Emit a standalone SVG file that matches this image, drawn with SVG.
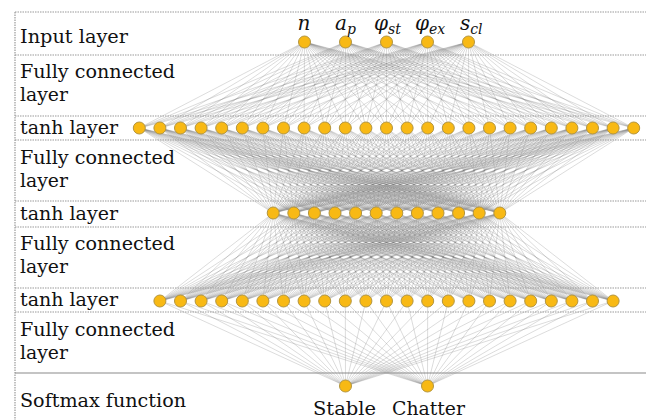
<svg xmlns="http://www.w3.org/2000/svg" xmlns:xlink="http://www.w3.org/1999/xlink" width="646" height="420" viewBox="0 0 646 420">
  <style>
    text { font-family: "DejaVu Serif", "Liberation Serif", serif; fill: #111; }
    .lbl { font-size: 19px; }
    .var { font-size: 20px; font-style: italic; }
    .sub { font-size: 14px; }
    .sep { stroke: #9a9a9a; stroke-width: 1.2; stroke-dasharray: 1.5 1; fill: none; }
    .solid { stroke: #8a8a8a; stroke-width: 1.2; fill: none; }
    .node { fill: #F8B914; stroke: #B3953F; stroke-width: 1; }
    .fan { stroke: #7a7a7a; stroke-opacity: 0.38; stroke-width: 0.7; fill: none; }
  </style>
  <defs>
    <!-- fans in unit-height local space: source at (0,0), targets at (x,1);
         each use maps them with matrix(1 0 -sx dy sx y0) -->
    <path id="fanA" class="fan" vector-effect="non-scaling-stroke" d="M0 0L139.3 1M0 0L159.9 1M0 0L180.5 1M0 0L201.1 1M0 0L221.7 1M0 0L242.3 1M0 0L262.9 1M0 0L283.5 1M0 0L304.1 1M0 0L324.7 1M0 0L345.3 1M0 0L365.9 1M0 0L386.5 1M0 0L407.1 1M0 0L427.7 1M0 0L448.3 1M0 0L468.9 1M0 0L489.5 1M0 0L510.1 1M0 0L530.7 1M0 0L551.3 1M0 0L571.9 1M0 0L592.5 1M0 0L613.1 1M0 0L633.7 1"/>
    <path id="fanB" class="fan" vector-effect="non-scaling-stroke" d="M0 0L273.2 1M0 0L293.8 1M0 0L314.4 1M0 0L335 1M0 0L355.6 1M0 0L376.2 1M0 0L396.8 1M0 0L417.4 1M0 0L438 1M0 0L458.6 1M0 0L479.2 1M0 0L499.8 1"/>
    <path id="fanC" class="fan" vector-effect="non-scaling-stroke" d="M0 0L159.9 1M0 0L180.5 1M0 0L201.1 1M0 0L221.7 1M0 0L242.3 1M0 0L262.9 1M0 0L283.5 1M0 0L304.1 1M0 0L324.7 1M0 0L345.3 1M0 0L365.9 1M0 0L386.5 1M0 0L407.1 1M0 0L427.7 1M0 0L448.3 1M0 0L468.9 1M0 0L489.5 1M0 0L510.1 1M0 0L530.7 1M0 0L551.3 1M0 0L571.9 1M0 0L592.5 1M0 0L613.1 1"/>
    <path id="fanD" class="fan" vector-effect="non-scaling-stroke" d="M0 0L345.5 1M0 0L427.5 1"/>
    <circle id="n" class="node" r="6"/>
  </defs>

  <rect width="646" height="420" fill="#ffffff"/>

  <!-- connectors between consecutive layers -->
  <g id="connectors">
    <g id="in-to-tanh1">
      <use xlink:href="#fanA" transform="matrix(1 0 -304.5 86 304.5 42)"/>
      <use xlink:href="#fanA" transform="matrix(1 0 -345.5 86 345.5 42)"/>
      <use xlink:href="#fanA" transform="matrix(1 0 -386.5 86 386.5 42)"/>
      <use xlink:href="#fanA" transform="matrix(1 0 -427.5 86 427.5 42)"/>
      <use xlink:href="#fanA" transform="matrix(1 0 -468.5 86 468.5 42)"/>
    </g>
    <g id="tanh1-to-tanh2">
      <use xlink:href="#fanB" transform="matrix(1 0 -139.3 85 139.3 128)"/>
      <use xlink:href="#fanB" transform="matrix(1 0 -159.9 85 159.9 128)"/>
      <use xlink:href="#fanB" transform="matrix(1 0 -180.5 85 180.5 128)"/>
      <use xlink:href="#fanB" transform="matrix(1 0 -201.1 85 201.1 128)"/>
      <use xlink:href="#fanB" transform="matrix(1 0 -221.7 85 221.7 128)"/>
      <use xlink:href="#fanB" transform="matrix(1 0 -242.3 85 242.3 128)"/>
      <use xlink:href="#fanB" transform="matrix(1 0 -262.9 85 262.9 128)"/>
      <use xlink:href="#fanB" transform="matrix(1 0 -283.5 85 283.5 128)"/>
      <use xlink:href="#fanB" transform="matrix(1 0 -304.1 85 304.1 128)"/>
      <use xlink:href="#fanB" transform="matrix(1 0 -324.7 85 324.7 128)"/>
      <use xlink:href="#fanB" transform="matrix(1 0 -345.3 85 345.3 128)"/>
      <use xlink:href="#fanB" transform="matrix(1 0 -365.9 85 365.9 128)"/>
      <use xlink:href="#fanB" transform="matrix(1 0 -386.5 85 386.5 128)"/>
      <use xlink:href="#fanB" transform="matrix(1 0 -407.1 85 407.1 128)"/>
      <use xlink:href="#fanB" transform="matrix(1 0 -427.7 85 427.7 128)"/>
      <use xlink:href="#fanB" transform="matrix(1 0 -448.3 85 448.3 128)"/>
      <use xlink:href="#fanB" transform="matrix(1 0 -468.9 85 468.9 128)"/>
      <use xlink:href="#fanB" transform="matrix(1 0 -489.5 85 489.5 128)"/>
      <use xlink:href="#fanB" transform="matrix(1 0 -510.1 85 510.1 128)"/>
      <use xlink:href="#fanB" transform="matrix(1 0 -530.7 85 530.7 128)"/>
      <use xlink:href="#fanB" transform="matrix(1 0 -551.3 85 551.3 128)"/>
      <use xlink:href="#fanB" transform="matrix(1 0 -571.9 85 571.9 128)"/>
      <use xlink:href="#fanB" transform="matrix(1 0 -592.5 85 592.5 128)"/>
      <use xlink:href="#fanB" transform="matrix(1 0 -613.1 85 613.1 128)"/>
      <use xlink:href="#fanB" transform="matrix(1 0 -633.7 85 633.7 128)"/>
    </g>
    <g id="tanh2-to-tanh3">
      <use xlink:href="#fanC" transform="matrix(1 0 -273.2 88 273.2 213)"/>
      <use xlink:href="#fanC" transform="matrix(1 0 -293.8 88 293.8 213)"/>
      <use xlink:href="#fanC" transform="matrix(1 0 -314.4 88 314.4 213)"/>
      <use xlink:href="#fanC" transform="matrix(1 0 -335 88 335 213)"/>
      <use xlink:href="#fanC" transform="matrix(1 0 -355.6 88 355.6 213)"/>
      <use xlink:href="#fanC" transform="matrix(1 0 -376.2 88 376.2 213)"/>
      <use xlink:href="#fanC" transform="matrix(1 0 -396.8 88 396.8 213)"/>
      <use xlink:href="#fanC" transform="matrix(1 0 -417.4 88 417.4 213)"/>
      <use xlink:href="#fanC" transform="matrix(1 0 -438 88 438 213)"/>
      <use xlink:href="#fanC" transform="matrix(1 0 -458.6 88 458.6 213)"/>
      <use xlink:href="#fanC" transform="matrix(1 0 -479.2 88 479.2 213)"/>
      <use xlink:href="#fanC" transform="matrix(1 0 -499.8 88 499.8 213)"/>
    </g>
    <g id="tanh3-to-out">
      <use xlink:href="#fanD" transform="matrix(1 0 -159.9 85 159.9 301)"/>
      <use xlink:href="#fanD" transform="matrix(1 0 -180.5 85 180.5 301)"/>
      <use xlink:href="#fanD" transform="matrix(1 0 -201.1 85 201.1 301)"/>
      <use xlink:href="#fanD" transform="matrix(1 0 -221.7 85 221.7 301)"/>
      <use xlink:href="#fanD" transform="matrix(1 0 -242.3 85 242.3 301)"/>
      <use xlink:href="#fanD" transform="matrix(1 0 -262.9 85 262.9 301)"/>
      <use xlink:href="#fanD" transform="matrix(1 0 -283.5 85 283.5 301)"/>
      <use xlink:href="#fanD" transform="matrix(1 0 -304.1 85 304.1 301)"/>
      <use xlink:href="#fanD" transform="matrix(1 0 -324.7 85 324.7 301)"/>
      <use xlink:href="#fanD" transform="matrix(1 0 -345.3 85 345.3 301)"/>
      <use xlink:href="#fanD" transform="matrix(1 0 -365.9 85 365.9 301)"/>
      <use xlink:href="#fanD" transform="matrix(1 0 -386.5 85 386.5 301)"/>
      <use xlink:href="#fanD" transform="matrix(1 0 -407.1 85 407.1 301)"/>
      <use xlink:href="#fanD" transform="matrix(1 0 -427.7 85 427.7 301)"/>
      <use xlink:href="#fanD" transform="matrix(1 0 -448.3 85 448.3 301)"/>
      <use xlink:href="#fanD" transform="matrix(1 0 -468.9 85 468.9 301)"/>
      <use xlink:href="#fanD" transform="matrix(1 0 -489.5 85 489.5 301)"/>
      <use xlink:href="#fanD" transform="matrix(1 0 -510.1 85 510.1 301)"/>
      <use xlink:href="#fanD" transform="matrix(1 0 -530.7 85 530.7 301)"/>
      <use xlink:href="#fanD" transform="matrix(1 0 -551.3 85 551.3 301)"/>
      <use xlink:href="#fanD" transform="matrix(1 0 -571.9 85 571.9 301)"/>
      <use xlink:href="#fanD" transform="matrix(1 0 -592.5 85 592.5 301)"/>
      <use xlink:href="#fanD" transform="matrix(1 0 -613.1 85 613.1 301)"/>
    </g>
  </g>

  <!-- band separators -->
  <g id="bands">
    <path class="sep" d="M15 12H646M15 55H646M15 116H646M15 140H646M15 201H646M15 227H646M15 288H646M15 312H646"/>
    <path class="sep" d="M15 12V420"/>
    <path class="solid" d="M15 373H646"/>
  </g>

  <!-- band titles -->
  <g id="band-titles">
    <text class="lbl" x="20" y="43" textLength="108" lengthAdjust="spacingAndGlyphs">Input layer</text>
    <text class="lbl" x="20" y="78" textLength="155" lengthAdjust="spacingAndGlyphs">Fully connected</text>
    <text class="lbl" x="20" y="101" textLength="48" lengthAdjust="spacingAndGlyphs">layer</text>
    <text class="lbl" x="20" y="134" textLength="98" lengthAdjust="spacingAndGlyphs">tanh layer</text>
    <text class="lbl" x="20" y="164" textLength="155" lengthAdjust="spacingAndGlyphs">Fully connected</text>
    <text class="lbl" x="20" y="187" textLength="48" lengthAdjust="spacingAndGlyphs">layer</text>
    <text class="lbl" x="20" y="220" textLength="98" lengthAdjust="spacingAndGlyphs">tanh layer</text>
    <text class="lbl" x="20" y="250" textLength="155" lengthAdjust="spacingAndGlyphs">Fully connected</text>
    <text class="lbl" x="20" y="273" textLength="48" lengthAdjust="spacingAndGlyphs">layer</text>
    <text class="lbl" x="20" y="306" textLength="98" lengthAdjust="spacingAndGlyphs">tanh layer</text>
    <text class="lbl" x="20" y="336" textLength="155" lengthAdjust="spacingAndGlyphs">Fully connected</text>
    <text class="lbl" x="20" y="359" textLength="48" lengthAdjust="spacingAndGlyphs">layer</text>
    <text class="lbl" x="20" y="407" textLength="166" lengthAdjust="spacingAndGlyphs">Softmax function</text>
  </g>

  <!-- input layer -->
  <g id="input-layer">
    <use xlink:href="#n" x="304.5" y="42"/>
    <use xlink:href="#n" x="345.5" y="42"/>
    <use xlink:href="#n" x="386.5" y="42"/>
    <use xlink:href="#n" x="427.5" y="42"/>
    <use xlink:href="#n" x="468.5" y="42"/>
    <text class="var" x="304" y="30" text-anchor="middle">n</text>
    <text class="var" x="335" y="30">a<tspan class="sub" dy="4">p</tspan></text>
    <text class="var" x="374" y="30">φ<tspan class="sub" dy="4">st</tspan></text>
    <text class="var" x="415" y="30">φ<tspan class="sub" dy="4">ex</tspan></text>
    <text class="var" x="460" y="30">s<tspan class="sub" dy="4">cl</tspan></text>
  </g>

  <!-- first tanh layer: 25 units -->
  <g id="tanh-layer-1">
    <use xlink:href="#n" x="139.3" y="128"/><use xlink:href="#n" x="159.9" y="128"/><use xlink:href="#n" x="180.5" y="128"/>
    <use xlink:href="#n" x="201.1" y="128"/><use xlink:href="#n" x="221.7" y="128"/><use xlink:href="#n" x="242.3" y="128"/>
    <use xlink:href="#n" x="262.9" y="128"/><use xlink:href="#n" x="283.5" y="128"/><use xlink:href="#n" x="304.1" y="128"/>
    <use xlink:href="#n" x="324.7" y="128"/><use xlink:href="#n" x="345.3" y="128"/><use xlink:href="#n" x="365.9" y="128"/>
    <use xlink:href="#n" x="386.5" y="128"/><use xlink:href="#n" x="407.1" y="128"/><use xlink:href="#n" x="427.7" y="128"/>
    <use xlink:href="#n" x="448.3" y="128"/><use xlink:href="#n" x="468.9" y="128"/><use xlink:href="#n" x="489.5" y="128"/>
    <use xlink:href="#n" x="510.1" y="128"/><use xlink:href="#n" x="530.7" y="128"/><use xlink:href="#n" x="551.3" y="128"/>
    <use xlink:href="#n" x="571.9" y="128"/><use xlink:href="#n" x="592.5" y="128"/><use xlink:href="#n" x="613.1" y="128"/>
    <use xlink:href="#n" x="633.7" y="128"/>
  </g>

  <!-- second tanh layer: 12 units -->
  <g id="tanh-layer-2">
    <use xlink:href="#n" x="273.2" y="213"/><use xlink:href="#n" x="293.8" y="213"/><use xlink:href="#n" x="314.4" y="213"/>
    <use xlink:href="#n" x="335" y="213"/><use xlink:href="#n" x="355.6" y="213"/><use xlink:href="#n" x="376.2" y="213"/>
    <use xlink:href="#n" x="396.8" y="213"/><use xlink:href="#n" x="417.4" y="213"/><use xlink:href="#n" x="438" y="213"/>
    <use xlink:href="#n" x="458.6" y="213"/><use xlink:href="#n" x="479.2" y="213"/><use xlink:href="#n" x="499.8" y="213"/>
  </g>

  <!-- third tanh layer: 23 units -->
  <g id="tanh-layer-3">
    <use xlink:href="#n" x="159.9" y="301"/><use xlink:href="#n" x="180.5" y="301"/><use xlink:href="#n" x="201.1" y="301"/>
    <use xlink:href="#n" x="221.7" y="301"/><use xlink:href="#n" x="242.3" y="301"/><use xlink:href="#n" x="262.9" y="301"/>
    <use xlink:href="#n" x="283.5" y="301"/><use xlink:href="#n" x="304.1" y="301"/><use xlink:href="#n" x="324.7" y="301"/>
    <use xlink:href="#n" x="345.3" y="301"/><use xlink:href="#n" x="365.9" y="301"/><use xlink:href="#n" x="386.5" y="301"/>
    <use xlink:href="#n" x="407.1" y="301"/><use xlink:href="#n" x="427.7" y="301"/><use xlink:href="#n" x="448.3" y="301"/>
    <use xlink:href="#n" x="468.9" y="301"/><use xlink:href="#n" x="489.5" y="301"/><use xlink:href="#n" x="510.1" y="301"/>
    <use xlink:href="#n" x="530.7" y="301"/><use xlink:href="#n" x="551.3" y="301"/><use xlink:href="#n" x="571.9" y="301"/>
    <use xlink:href="#n" x="592.5" y="301"/><use xlink:href="#n" x="613.1" y="301"/>
  </g>

  <!-- softmax outputs -->
  <g id="output-stable">
    <use xlink:href="#n" x="345.5" y="386"/>
    <text class="lbl" x="313" y="415" textLength="63" lengthAdjust="spacingAndGlyphs">Stable</text>
  </g>
  <g id="output-chatter">
    <use xlink:href="#n" x="427.5" y="386"/>
    <text class="lbl" x="392" y="415" textLength="73" lengthAdjust="spacingAndGlyphs">Chatter</text>
  </g>
</svg>
